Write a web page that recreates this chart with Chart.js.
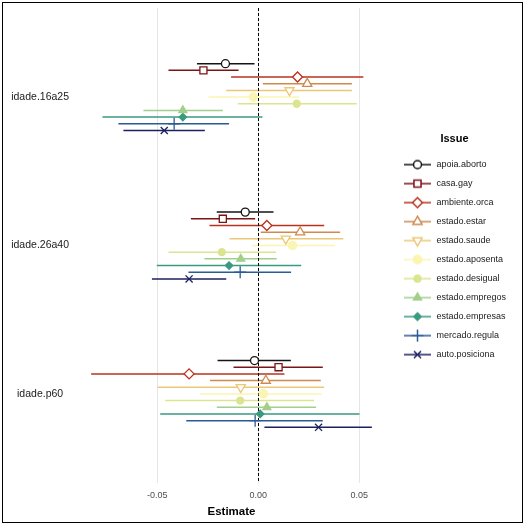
<!DOCTYPE html>
<html>
<head>
<meta charset="utf-8">
<script src="https://cdn.jsdelivr.net/npm/chart.js@4/dist/chart.umd.min.js"></script>
<style>
  html,body{margin:0;padding:0;background:#fff;}
  #wrap{position:relative;width:529px;height:527px;}
  #frame{position:absolute;left:2px;top:2px;width:521px;height:521px;box-sizing:border-box;border:1.6px solid #000;pointer-events:none;}
</style>
</head>
<body>
<div id="wrap">
  <canvas id="c" width="529" height="527"></canvas>
  <div id="frame"></div>
</div>
<script>
// grupos no eixo y
const categories=['idade.16a25','idade.26a40','idade.p60'];
const issues=['apoia.aborto','casa.gay','ambiente.orca','estado.estar','estado.saude','estado.aposenta','estado.desigual','estado.empregos','estado.empresas','mercado.regula','auto.posiciona'];
const xTicks=[-0.05,0,0.05];

// estimativas e intervalos, na ordem de issues
const est16a25=[-0.0162,-0.0271,0.0195,0.0243,0.0155,-0.0023,0.0191,-0.0373,-0.0373,-0.0416,-0.0465];
const lo16a25=[-0.0303,-0.0444,-0.0134,0.0023,-0.0158,-0.0246,-0.0101,-0.0568,-0.0771,-0.0692,-0.0667];
const hi16a25=[-0.0018,-0.0097,0.0521,0.0464,0.0464,0.0203,0.0488,-0.0175,0.0021,-0.0144,-0.0264];

const est26a40=[-0.0064,-0.0175,0.0043,0.0208,0.0137,0.0170,-0.0180,-0.0086,-0.0144,-0.0089,-0.0342];
const lo26a40=[-0.0205,-0.0333,-0.0241,0.0013,-0.0142,-0.0031,-0.0444,-0.0266,-0.0502,-0.0345,-0.0526];
const hi26a40=[0.0076,-0.0015,0.0327,0.0406,0.0422,0.0381,0.0089,0.0092,0.0213,0.0163,-0.0158];

const estP60=[-0.0018,0.0101,-0.0342,0.0038,-0.0086,0.0026,-0.0089,0.0043,0.0010,-0.0015,0.0299];
const loP60=[-0.0201,-0.0122,-0.0827,-0.0238,-0.0498,-0.0287,-0.0460,-0.0205,-0.0485,-0.0356,0.0031];
const hiP60=[0.0162,0.0320,0.0130,0.0310,0.0327,0.0315,0.0277,0.0287,0.0502,0.0320,0.0563];

const colors=['#141414','#7c1416','#b8321f','#cf8a4e','#ecc777','#faf5b4','#dbe58f','#a2cf8c','#3a9a80','#2b5b97','#1c205e'];
const fills=['#fff','#fff','#fff','#fff','#fff','#faf5b4','#dbe58f','#a2cf8c','#3a9a80','#2b5b97','#1c205e'];
const styles=['circle','rect','rectRot','triangle','triangle','circle','circle','triangle','rectRot','cross','crossRot'];
const rotations=[0,0,0,0,180,0,0,0,0,0,0];
const radii=[4,5,5,5.3,5.3,4.2,3.5,4.6,3.7,6,5];

const estAll=[est16a25,est26a40,estP60];
const loAll=[lo16a25,lo26a40,loP60];
const hiAll=[hi16a25,hi26a40,hiP60];
const dodge=0.045;
const LEGEND_W=137;

function keyImage(i){
  const c=document.createElement('canvas');
  c.width=36;c.height=14;
  const g=c.getContext('2d');
  g.strokeStyle=colors[i];g.lineWidth=1.5;
  g.beginPath();g.moveTo(8,7);g.lineTo(35,7);g.stroke();
  g.fillStyle=fills[i];g.strokeStyle=colors[i];
  Chart.helpers.drawPoint(g,{pointStyle:styles[i],radius:radii[i],rotation:rotations[i],borderWidth:1.3},21.5,7);
  return c;
}

const datasets=issues.map((name,i)=>({
  label:name,
  data:categories.map((cat,j)=>({x:estAll[j][i],y:j+1+(i-5)*dodge,lo:loAll[j][i],hi:hiAll[j][i]})),
  borderColor:colors[i],
  backgroundColor:fills[i],
  pointStyle:styles[i],
  rotation:rotations[i],
  pointRadius:radii[i],
  pointBorderWidth:1.3
}));

const errorBars={
  id:'errorBars',
  beforeDatasetsDraw(chart){
    const ctx=chart.ctx, xs=chart.scales.x, a=chart.chartArea;
    ctx.save();
    chart.data.datasets.forEach((ds,i)=>{
      const meta=chart.getDatasetMeta(i);
      meta.data.forEach((pt,j)=>{
        const d=ds.data[j];
        ctx.strokeStyle=ds.borderColor;ctx.lineWidth=1.5;
        ctx.beginPath();
        ctx.moveTo(xs.getPixelForValue(d.lo),pt.y);
        ctx.lineTo(xs.getPixelForValue(d.hi),pt.y);
        ctx.stroke();
      });
    });
    // linha de referencia em zero
    const x0=Math.round(xs.getPixelForValue(0))+0.5;
    ctx.strokeStyle='#000';ctx.lineWidth=1;ctx.setLineDash([3,2]);
    ctx.beginPath();ctx.moveTo(x0,a.top);ctx.lineTo(x0,a.bottom);ctx.stroke();
    ctx.restore();
  }
};

// legenda com largura fixa, pra o painel terminar onde deve; e um pouco mais acima
const legendWidth={
  id:'legendWidth',
  beforeUpdate(chart){
    const lg=chart.legend;
    if(lg && !lg._fixed){
      const fit=lg.fit;
      lg.fit=function(){fit.call(this);this.width=LEGEND_W;};
      lg._fixed=true;
    }
  },
  afterLayout(chart){
    const lg=chart.legend;
    if(lg){lg.top-=12;lg.bottom-=12;}
  }
};

const font="'Liberation Sans', Arial, sans-serif";
new Chart(document.getElementById('c'),{
  type:'scatter',
  data:{datasets},
  options:{
    responsive:false,
    animation:false,
    layout:{padding:{left:4,top:8,bottom:8,right:6}},
    scales:{
      x:{
        min:-0.0897,max:0.0633,
        afterBuildTicks:s=>{s.ticks=xTicks.map(v=>({value:v}));},
        afterFit:s=>{s.height=36;s.paddingLeft=0;s.paddingRight=0;},
        grid:{color:'#e6e6e6',lineWidth:1,drawTicks:false},
        border:{display:false},
        ticks:{color:'#4d4d4d',font:{family:font,size:9},padding:7,callback:v=>v.toFixed(2)},
        title:{display:true,text:'Estimate',color:'#000',font:{family:font,size:11.5,weight:'bold'},padding:{top:4,bottom:0}}
      },
      y:{
        min:0.4,max:3.6,reverse:true,
        afterBuildTicks:s=>{s.ticks=categories.map((c,j)=>({value:j+1}));},
        afterFit:s=>{s.width=73;s.paddingTop=0;s.paddingBottom=0;},
        grid:{display:false,drawTicks:false},
        border:{display:false},
        ticks:{color:'#1a1a1a',font:{family:font,size:10.5},padding:8,crossAlign:'center',callback:v=>categories[v-1]}
      }
    },
    plugins:{
      tooltip:{enabled:false},
      legend:{
        position:'right',
        title:{display:true,text:'Issue',color:'#000',font:{family:font,size:11,weight:'bold'},padding:{top:0,bottom:3}},
        labels:{
          usePointStyle:true,
          pointStyleWidth:36,
          boxHeight:14,
          padding:10,
          color:'#1a1a1a',
          font:{family:font,size:9},
          generateLabels:chart=>issues.map((name,i)=>({text:name,pointStyle:keyImage(i),datasetIndex:i,fontColor:'#1a1a1a',lineWidth:0,strokeStyle:'rgba(0,0,0,0)',fillStyle:'rgba(0,0,0,0)'}))
        }
      }
    }
  },
  plugins:[errorBars,legendWidth]
});
</script>
</body>
</html>
